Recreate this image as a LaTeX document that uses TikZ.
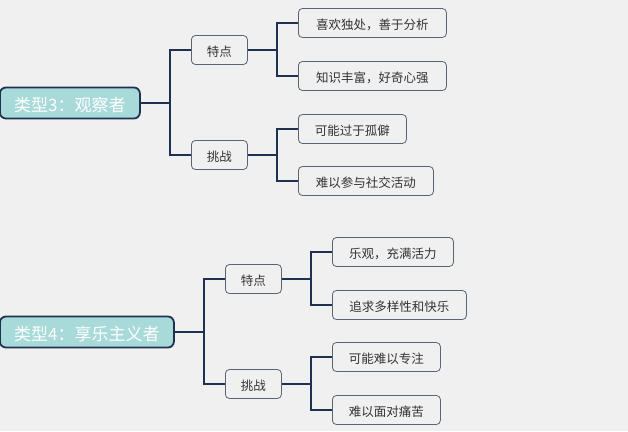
\documentclass[tikz,border=0pt]{standalone}
\usepackage{fontspec}
\setmainfont{Noto Sans CJK SC}
\definecolor{bgcol}{HTML}{F0F0F0}
\definecolor{navy}{HTML}{1E3250}
\definecolor{teal}{HTML}{A8DADA}
\definecolor{boxline}{HTML}{5A6478}
\definecolor{txt}{HTML}{333333}
\begin{document}
\begin{tikzpicture}[x=1pt, y=-1pt,
	rootbox/.style={draw=navy, line width=1.8pt, fill=teal, rounded corners=6pt, text=white,
		font=\fontsize{17}{18}\selectfont, minimum height=31pt, anchor=west, inner xsep=10pt,
		text height=17pt, text depth=0pt},
	subbox/.style={draw=boxline, line width=0.8pt, fill=bgcol, rounded corners=4pt, text=txt,
		font=\fontsize{12.5}{14}\selectfont, minimum width=56pt, minimum height=29pt, anchor=west,
		text height=12.5pt, text depth=0pt},
	leafbox/.style={subbox, inner xsep=14pt},
	link/.style={draw=navy, line width=1.6pt}]
	\useasboundingbox[fill=bgcol] (0,0) rectangle (628,431);
	
	% Type 3
	\node[rootbox, minimum width=140pt] (r3) at (-1,103) {类型3：观察者};
	\node[subbox] (t3) at (191,50) {特点};
	\node[subbox] (c3) at (191,155) {挑战};
	\node[leafbox, minimum width=148pt] (t3a) at (298,23) {喜欢独处，善于分析};
	\node[leafbox, minimum width=148pt] (t3b) at (298,76) {知识丰富，好奇心强};
	\node[leafbox, minimum width=108pt] (c3a) at (298,129) {可能过于孤僻};
	\node[leafbox, minimum width=135pt] (c3b) at (298,181) {难以参与社交活动};
	\coordinate (j3) at (170,103);
	\coordinate (j3t) at (277,50);
	\coordinate (j3c) at (277,155);
	
	% Type 4
	\node[rootbox, minimum width=174pt] (r4) at (-1,332) {类型4：享乐主义者};
	\node[subbox] (t4) at (225,279) {特点};
	\node[subbox] (c4) at (225,384) {挑战};
	\node[leafbox, minimum width=121pt] (t4a) at (332,252) {乐观，充满活力};
	\node[leafbox, minimum width=134pt] (t4b) at (332,305) {追求多样性和快乐};
	\node[leafbox, minimum width=108pt] (c4a) at (332,357) {可能难以专注};
	\node[leafbox, minimum width=108pt] (c4b) at (332,410) {难以面对痛苦};
	\coordinate (j4) at (204,332);
	\coordinate (j4t) at (311,279);
	\coordinate (j4c) at (311,384);
	
	% Connectors
	\foreach \a/\b in {r3/j3, t3/j3t, c3/j3c, r4/j4, t4/j4t, c4/j4c}
		\draw[link] (\a.east) -- (\b);
	\foreach \a/\b in {j3/t3, j3/c3, j3t/t3a, j3t/t3b, j3c/c3a, j3c/c3b,
		j4/t4, j4/c4, j4t/t4a, j4t/t4b, j4c/c4a, j4c/c4b}
		\draw[link] (\a) |- (\b.west);
\end{tikzpicture}
\end{document}
